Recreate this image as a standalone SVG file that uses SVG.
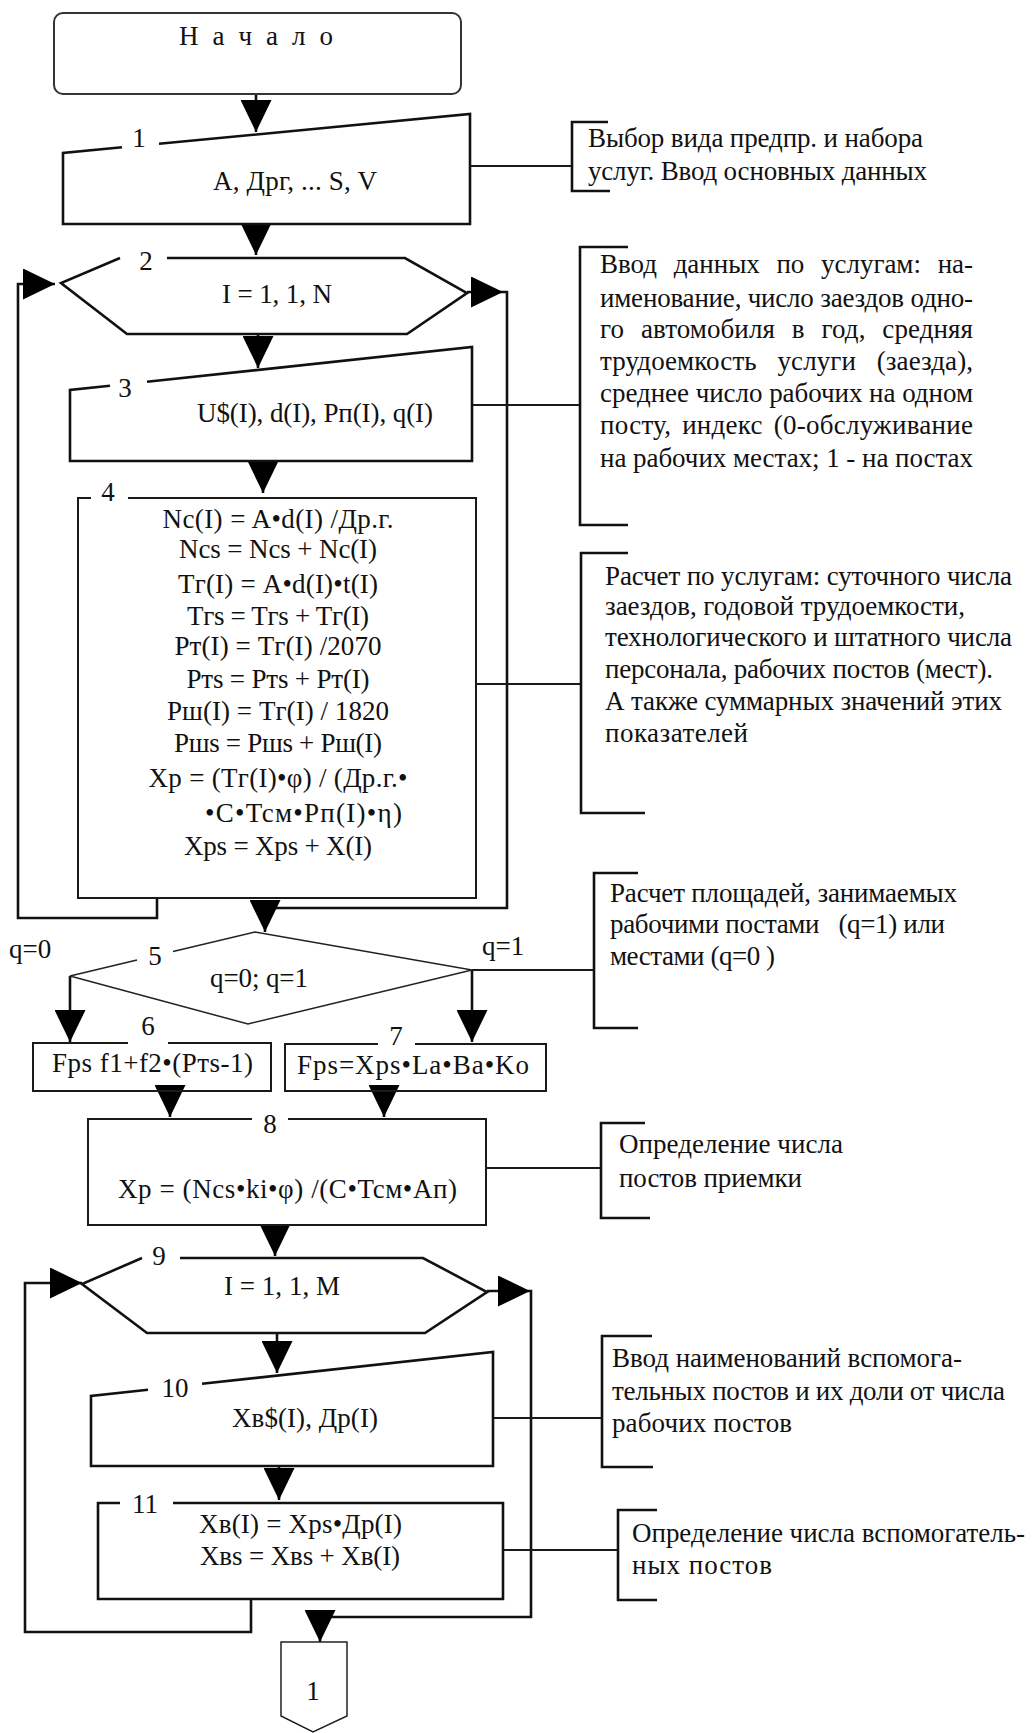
<svg xmlns="http://www.w3.org/2000/svg" width="1032" height="1733" viewBox="0 0 1032 1733">
<style>
.ln{fill:none;stroke:#111;stroke-width:2.6}
.ln2{fill:none;stroke:#1a1a1a;stroke-width:2}
.thin{fill:none;stroke:#222;stroke-width:1.5}
.br{fill:none;stroke:#111;stroke-width:2.6}
.t{font-family:"Liberation Serif","DejaVu Serif","Times New Roman",serif;font-size:27px;fill:#111}
.d{font-family:"Liberation Serif","DejaVu Serif","Times New Roman",serif;font-size:27px;fill:#111}
.m{text-anchor:middle}
</style>
<defs>
<marker id="ah" viewBox="0 0 32 31" refX="32" refY="15.5" markerWidth="32" markerHeight="31" markerUnits="userSpaceOnUse" orient="auto">
<path d="M0,0 L32,15.5 L0,31 Z" fill="#000"/>
</marker>
</defs>
<rect width="1032" height="1733" fill="#fff"/>

<g id="connectors">
<path class="ln" d="M256,94 V132" marker-end="url(#ah)"/>
<path class="ln" d="M256,224 V255" marker-end="url(#ah)"/>
<path class="ln" d="M258,334 V368" marker-end="url(#ah)"/>
<path class="ln" d="M263,461 V493" marker-end="url(#ah)"/>
<path class="ln" d="M157,898 V918 H18 V284 H55" marker-end="url(#ah)"/>
<path class="ln" d="M467,292 H503" marker-end="url(#ah)"/>
<path class="ln" d="M503,292 H507 V908 H265 V932" marker-end="url(#ah)"/>
<path class="ln" d="M70,976 V1042" marker-end="url(#ah)"/>
<path class="ln" d="M472,970 V1042" marker-end="url(#ah)"/>
<path class="ln" d="M170,1091 V1117" marker-end="url(#ah)"/>
<path class="ln" d="M384,1091 V1117" marker-end="url(#ah)"/>
<path class="ln" d="M275,1225 V1256" marker-end="url(#ah)"/>
<path class="ln" d="M487,1291 H530" marker-end="url(#ah)"/>
<path class="ln" d="M530,1291 H531 V1617 H320 V1642" marker-end="url(#ah)"/>
<path class="ln" d="M277,1333 V1373" marker-end="url(#ah)"/>
<path class="ln" d="M279,1466 V1500" marker-end="url(#ah)"/>
<path class="ln" d="M251,1599 V1632 H25 V1283 H82" marker-end="url(#ah)"/>
<path class="ln2" d="M470,166 H572"/>
<path class="ln2" d="M472,405 H580"/>
<path class="ln2" d="M476,684 H581"/>
<path class="ln2" d="M472,970 H594"/>
<path class="ln2" d="M486,1168 H601"/>
<path class="ln2" d="M493,1418 H602"/>
<path class="ln2" d="M503,1550 H618"/>
</g>

<g id="start">
<rect x="54" y="13" width="407" height="81" rx="9" fill="none" stroke="#333" stroke-width="2"/>
<text class="t m" x="256" y="45" textLength="154">Н а ч а л о</text>
</g>

<g id="n1">
<path class="ln" d="M122,147.3 L63,153 V224 H470 V114 L159,143.8"/>
<text class="t m" x="139" y="147">1</text>
<text class="t m" x="295" y="190" textLength="164">A, Дрг, ... S, V</text>
</g>

<g id="n2">
<path class="ln" d="M120,258 L61,283 L127,334 H407 L467,293 L405,258 H167"/>
<text class="t m" x="146" y="270">2</text>
<text class="t m" x="277" y="303" textLength="110">I = 1, 1, N</text>
</g>

<g id="n3">
<path class="ln" d="M110,385.7 L70,390 V461 H472 V347 L147,381.8"/>
<text class="t m" x="125" y="397">3</text>
<text class="t m" x="315" y="422" textLength="236">U$(I), d(I), Pп(I), q(I)</text>
</g>

<g id="n4">
<path class="ln2" d="M91,498 H78 V898 H476 V498 H128"/>
<text class="t m" x="108" y="501">4</text>
<text class="t m" x="278" y="528" textLength="231">Nc(I) = A•d(I) /Др.г.</text>
<text class="t m" x="278" y="558" textLength="198">Ncs = Ncs + Nc(I)</text>
<text class="t m" x="278" y="593" textLength="200">Tг(I) = A•d(I)•t(I)</text>
<text class="t m" x="278" y="625" textLength="182">Tгs = Tгs + Tг(I)</text>
<text class="t m" x="278" y="655" textLength="207">Pт(I) = Tг(I) /2070</text>
<text class="t m" x="278" y="688" textLength="183">Pтs = Pтs + Pт(I)</text>
<text class="t m" x="278" y="720" textLength="222">Pш(I) = Tг(I) / 1820</text>
<text class="t m" x="278" y="752" textLength="208">Pшs = Pшs + Pш(I)</text>
<text class="t m" x="278" y="787" textLength="259">Xp = (Tг(I)•φ) / (Др.г.•</text>
<text class="t" x="205" y="822" textLength="197">•C•Tcм•Pп(I)•η)</text>
<text class="t m" x="278" y="855" textLength="188">Xps = Xps + X(I)</text>
</g>

<g id="n5">
<path class="thin" d="M137,960.1 L70,976 L248,1024 L472,970 L255,932 L173,951.5"/>
<text class="t m" x="155" y="965">5</text>
<text class="t m" x="259" y="987" textLength="98">q=0; q=1</text>
<text class="t" x="9" y="958">q=0</text>
<text class="t" x="482" y="955">q=1</text>
</g>

<g id="n6">
<path class="ln2" d="M128,1043 H33 V1091 H271 V1043 H168"/>
<text class="t m" x="148" y="1035">6</text>
<text class="t m" x="152.5" y="1072" textLength="201">Fps f1+f2•(Pтs-1)</text>
</g>

<g id="n7">
<path class="ln2" d="M378,1044 H285 V1091 H546 V1044 H415"/>
<text class="t m" x="396" y="1045">7</text>
<text class="t m" x="413" y="1074" textLength="232">Fps=Xps•La•Ba•Ko</text>
</g>

<g id="n8">
<path class="ln2" d="M252,1119 H88 V1225 H486 V1119 H288"/>
<text class="t m" x="270" y="1133">8</text>
<text class="t m" x="287.5" y="1198" textLength="339">Xp = (Ncs•ki•φ) /(C•Tcм•Aп)</text>
</g>

<g id="n9">
<path class="ln" d="M142,1258 L82,1284 L147,1333 H425 L487,1292 L423,1258 H180"/>
<text class="t m" x="159" y="1265">9</text>
<text class="t m" x="282" y="1295" textLength="116">I = 1, 1, M</text>
</g>

<g id="n10">
<path class="ln" d="M148,1389.8 L91,1396 V1466 H493 V1352 L202,1383.8"/>
<text class="t m" x="175" y="1397">10</text>
<text class="t m" x="305" y="1427" textLength="146">Xв$(I), Др(I)</text>
</g>

<g id="n11">
<path class="ln" d="M120,1503 H98 V1599 H503 V1503 H173"/>
<text class="t m" x="145" y="1513">11</text>
<text class="t m" x="300.5" y="1533" textLength="203">Xв(I) = Xps•Др(I)</text>
<text class="t m" x="300" y="1565" textLength="200">Xвs = Xвs + Xв(I)</text>
</g>

<g id="off1">
<path class="thin" d="M281,1642 H347 V1716 L313,1732 L281,1716 Z"/>
<text class="t m" x="313" y="1700">1</text>
</g>

<g id="a1">
<path class="br" d="M608,122 H572 V191 H610"/>
<text class="d" x="588" y="147" textLength="335">Выбор вида предпр. и набора</text>
<text class="d" x="588" y="180" textLength="339">услуг. Ввод основных данных</text>
</g>

<g id="a3">
<path class="br" d="M628,247 H580 V525 H628"/>
<text class="d" x="600" y="273" textLength="373" word-spacing="10">Ввод данных по услугам: на-</text>
<text class="d" x="600" y="307" textLength="373">именование, число заездов одно-</text>
<text class="d" x="600" y="338" textLength="373" word-spacing="10">го автомобиля в год, средняя</text>
<text class="d" x="600" y="370" textLength="373" word-spacing="14">трудоемкость услуги (заезда),</text>
<text class="d" x="600" y="402" textLength="373">среднее число рабочих на одном</text>
<text class="d" x="600" y="434" textLength="373" word-spacing="4">посту, индекс (0-обслуживание</text>
<text class="d" x="600" y="467" textLength="373">на рабочих местах; 1 - на постах</text>
</g>

<g id="a4">
<path class="br" d="M628,553 H581 V813 H645"/>
<text class="d" x="605" y="585" textLength="407">Расчет по услугам: суточного числа</text>
<text class="d" x="605" y="615" textLength="360">заездов, годовой трудоемкости,</text>
<text class="d" x="605" y="646" textLength="407">технологического и штатного числа</text>
<text class="d" x="605" y="678" textLength="388">персонала, рабочих постов (мест).</text>
<text class="d" x="605" y="710" textLength="397">А также суммарных значений этих</text>
<text class="d" x="605" y="742" textLength="143">показателей</text>
</g>

<g id="a5">
<path class="br" d="M638,873 H594 V1028 H638"/>
<text class="d" x="610" y="902" textLength="347">Расчет площадей, занимаемых</text>
<text class="d" x="610" y="933" textLength="335" style="white-space:pre">рабочими постами   (q=1) или</text>
<text class="d" x="610" y="965" textLength="165">местами (q=0 )</text>
</g>

<g id="a8">
<path class="br" d="M645,1123 H601 V1218 H650"/>
<text class="d" x="619" y="1153" textLength="224">Определение числа</text>
<text class="d" x="619" y="1187" textLength="183">постов приемки</text>
</g>

<g id="a10">
<path class="br" d="M652,1336 H602 V1467 H653"/>
<text class="d" x="612" y="1367" textLength="350">Ввод наименований вспомога-</text>
<text class="d" x="612" y="1400" textLength="393">тельных постов и их доли от числа</text>
<text class="d" x="612" y="1432" textLength="180">рабочих постов</text>
</g>

<g id="a11">
<path class="br" d="M657,1510 H618 V1600 H657"/>
<text class="d" x="632" y="1542" textLength="393">Определение числа вспомогатель-</text>
<text class="d" x="632" y="1574" textLength="140">ных постов</text>
</g>
</svg>
